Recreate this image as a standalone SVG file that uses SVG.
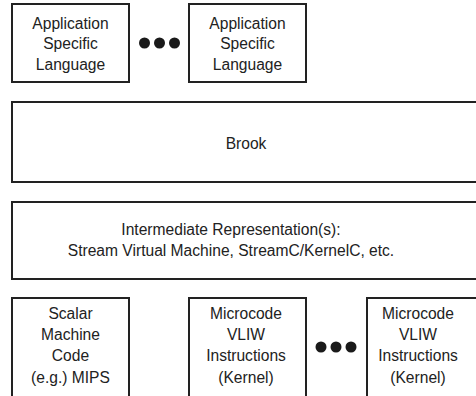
<svg xmlns="http://www.w3.org/2000/svg" width="476" height="396" viewBox="0 0 476 396">
  <style>
    .box { fill: #ffffff; stroke: #222222; stroke-width: 2; }
    .lbl { font-family: "Liberation Sans", Arial, sans-serif; font-size: 15.6px; fill: #222222; text-anchor: middle; }
    .dot { fill: #1a1a1a; }
  </style>
  <rect width="476" height="396" fill="#ffffff"/>

  <!-- top row: language front ends -->
  <g id="asl-1">
    <rect class="box" x="12" y="4" width="117" height="78"/>
    <text class="lbl" x="70.5" y="28.5">Application</text>
    <text class="lbl" x="70.5" y="49">Specific</text>
    <text class="lbl" x="70.5" y="70">Language</text>
  </g>
  <g id="asl-2">
    <rect class="box" x="189" y="4" width="117" height="78"/>
    <text class="lbl" x="247.5" y="28.5">Application</text>
    <text class="lbl" x="247.5" y="49">Specific</text>
    <text class="lbl" x="247.5" y="70">Language</text>
  </g>
  <g id="ellipsis-top">
    <circle class="dot" cx="144.5" cy="43" r="5.5"/>
    <circle class="dot" cx="159.5" cy="43" r="5.5"/>
    <circle class="dot" cx="174.5" cy="43" r="5.5"/>
  </g>

  <!-- Brook layer -->
  <g id="brook">
    <rect class="box" x="12" y="102" width="472" height="80"/>
    <text class="lbl" x="246" y="148.5">Brook</text>
  </g>

  <!-- intermediate representation layer -->
  <g id="ir">
    <rect class="box" x="12" y="202" width="472" height="77"/>
    <text class="lbl" x="231" y="234.5">Intermediate Representation(s):</text>
    <text class="lbl" x="231" y="255.5">Stream Virtual Machine, StreamC/KernelC, etc.</text>
  </g>

  <!-- bottom row: back-end targets -->
  <g id="scalar">
    <rect class="box" x="12" y="298" width="117" height="104"/>
    <text class="lbl" x="70.5" y="318.5">Scalar</text>
    <text class="lbl" x="70.5" y="339.5">Machine</text>
    <text class="lbl" x="70.5" y="361">Code</text>
    <text class="lbl" x="70.5" y="382.5">(e.g.) MIPS</text>
  </g>
  <g id="kernel-1">
    <rect class="box" x="189" y="298" width="117" height="104"/>
    <text class="lbl" x="246" y="318.5">Microcode</text>
    <text class="lbl" x="246" y="339.5">VLIW</text>
    <text class="lbl" x="246" y="361">Instructions</text>
    <text class="lbl" x="246" y="382.5">(Kernel)</text>
  </g>
  <g id="kernel-2">
    <rect class="box" x="367" y="298" width="117" height="104"/>
    <text class="lbl" x="418" y="318.5">Microcode</text>
    <text class="lbl" x="418" y="339.5">VLIW</text>
    <text class="lbl" x="418" y="361">Instructions</text>
    <text class="lbl" x="418" y="382.5">(Kernel)</text>
  </g>
  <g id="ellipsis-bottom">
    <circle class="dot" cx="321" cy="347" r="5.5"/>
    <circle class="dot" cx="336" cy="347" r="5.5"/>
    <circle class="dot" cx="351" cy="347" r="5.5"/>
  </g>

  <g id="connectors"/>
</svg>
